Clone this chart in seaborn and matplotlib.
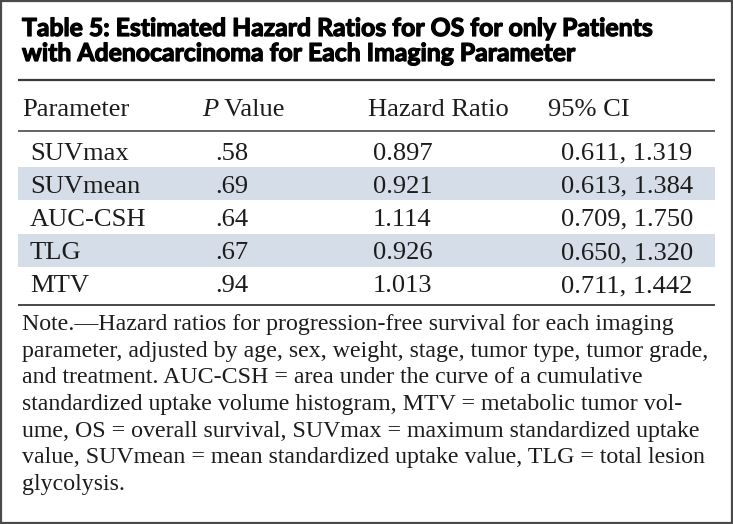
import matplotlib
matplotlib.use("Agg")
import matplotlib.pyplot as plt
import matplotlib.patheffects as pe
import seaborn as sns
from matplotlib.patches import Rectangle

# table content
title_lines = ["Table 5: Estimated Hazard Ratios for OS for only Patients",
               "with Adenocarcinoma for Each Imaging Parameter"]
parameters = ["SUVmax", "SUVmean", "AUC-CSH", "TLG", "MTV"]
p_values = [".58", ".69", ".64", ".67", ".94"]
hazard_ratios = ["0.897", "0.921", "1.114", "0.926", "1.013"]
ci_low = ["0.611", "0.613", "0.709", "0.650", "0.711"]
ci_high = ["1.319", "1.384", "1.750", "1.320", "1.442"]
note_lines = [
    "Note.\u2014Hazard ratios for progression-free survival for each imaging",
    "parameter, adjusted by age, sex, weight, stage, tumor type, tumor grade,",
    "and treatment. AUC-CSH = area under the curve of a cumulative",
    "standardized uptake volume histogram, MTV = metabolic tumor vol-",
    "ume, OS = overall survival, SUVmax = maximum standardized uptake",
    "value, SUVmean = mean standardized uptake value, TLG = total lesion",
    "glycolysis.",
]

sns.set_theme(style="white")
plt.rcParams["font.family"] = ["Liberation Serif", "DejaVu Serif"]

W, H = 733, 524
fig = plt.figure(figsize=(W / 100, H / 100), dpi=100)
ax = fig.add_axes([0, 0, 1, 1])
ax.set_xlim(0, W)
ax.set_ylim(H, 0)
ax.axis("off")

ink = "#1c1c1c"
rule = "#3a3a3a"
band = "#d5dde8"
left, right = 18, 715
title_font = ["Lato", "DejaVu Sans"]
heavy = [pe.withStroke(linewidth=0.9, foreground="#000000")]

def fit(t, width):
    fig.canvas.draw()
    bb = t.get_window_extent()
    t.set_fontsize(t.get_fontsize() * width / bb.width)
    return t.get_fontsize()

# outer frame
ax.add_patch(Rectangle((1, 1), W - 2.5, H - 2.5, fill=False, ec="#4a4a4a", lw=1.6))

# title (stroke thickens Lato Bold toward the heavier original face)
t = ax.text(22, 36, title_lines[0], family=title_font, weight="bold",
            fontsize=15, color="#000000", va="baseline", path_effects=heavy)
tsize = fit(t, 632)
ax.text(22, 61, title_lines[1], family=title_font, weight="bold",
        fontsize=tsize, color="#000000", va="baseline", path_effects=heavy)

ax.plot([left, right], [79.5, 79.5], color=rule, lw=1.6, solid_capstyle="butt")

# body size from the CI column width
probe = ax.text(561, -50, ci_low[0] + ", " + ci_high[0], fontsize=15)
bsize = fit(probe, 124) * 1.06
probe.remove()

# header
hdr_y = 116
ax.text(22, hdr_y, "Parameter", fontsize=bsize, color=ink, va="baseline")
pt = ax.text(202, hdr_y, "P", fontsize=bsize, color=ink, style="italic", va="baseline")
ax.annotate(" Value", xy=(1, 0), xycoords=pt, fontsize=bsize, color=ink, va="bottom")
ax.text(368, hdr_y, "Hazard Ratio", fontsize=bsize, color=ink, va="baseline")
ax.text(548, hdr_y, "95% CI", fontsize=bsize, color=ink, va="baseline")
ax.plot([left, right], [130.5, 130.5], color=rule, lw=1.1, solid_capstyle="butt")

# rows
row_top, row_h = 134, 33.2
for i, name in enumerate(parameters):
    top = row_top + i * row_h
    if i % 2 == 1:
        ax.barh(top + row_h / 2, right - left, height=row_h, left=left,
                color=band, lw=0, zorder=0)
    base = top + 25.5
    ax.text(30, base, name, fontsize=bsize, color=ink, va="baseline")
    ax.text(215, base, p_values[i], fontsize=bsize, color=ink, va="baseline")
    ax.text(373, base, hazard_ratios[i], fontsize=bsize, color=ink, va="baseline")
    ax.text(561, base, ci_low[i] + ", " + ci_high[i], fontsize=bsize, color=ink, va="baseline")

ax.plot([left, right], [305, 305], color=rule, lw=1.3, solid_capstyle="butt")

# note
n0 = ax.text(22, 330, note_lines[1], fontsize=15, color=ink, va="baseline")
nsize = fit(n0, 692)
n0.remove()
for i, line in enumerate(note_lines):
    ax.text(22, 330 + i * 26.7, line, fontsize=nsize, color=ink, va="baseline")

fig.savefig("out.png", dpi=100)
